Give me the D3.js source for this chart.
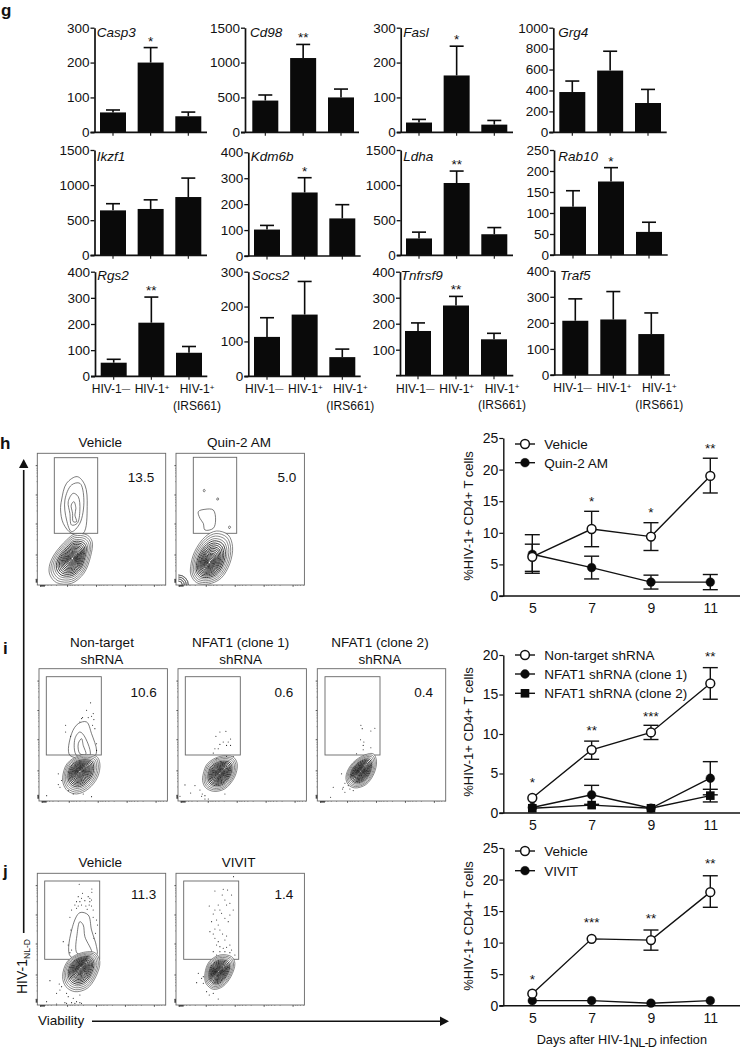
<!DOCTYPE html>
<html><head><meta charset="utf-8">
<script src="https://cdn.jsdelivr.net/npm/d3@7"></script>
<style>
html,body{margin:0;padding:0;background:#fff}
svg{display:block}
text{font-family:"Liberation Sans",Arial,sans-serif;fill:#111}
</style></head><body><svg id="c" width="740" height="1050"></svg>
<script>
// ---------- bar panel data ----------
const barCategories = ["HIV-1−","HIV-1+","HIV-1+ (IRS661)"];
const geneNames = ["Casp3","Cd98","Fasl","Grg4","Ikzf1","Kdm6b","Ldha","Rab10","Rgs2","Socs2","Tnfrsf9","Traf5"];
const geneMeans = [[57,200,46],[455,1065,500],[28,163,22],[385,590,280],[640,660,830],[102,245,145],[240,1030,300],[115,175,55],[52,205,90],[113,177,55],[172,270,140],[208,213,157]];
const geneErrTops = [[64,243,58],[535,1260,620],[37,247,34],[490,775,410],[735,790,1100],[118,302,198],[330,1200,395],[153,208,78],[65,303,114],[168,272,78],[203,305,163],[292,320,238]];
const geneStars = [["","*",""],["","**",""],["","*",""],["","",""],["","",""],["","*",""],["","**",""],["","*",""],["","**",""],["","",""],["","**",""],["","",""]];
const geneTicks = [[0,100,200,300],[0,500,1000,1500],[0,100,200,300],[0,200,400,600,800,1000],[0,500,1000,1500],[0,100,200,300,400],[0,500,1000,1500],[0,50,100,150,200,250],[0,100,200,300,400],[0,100,200,300],[100,200,300,400],[0,100,200,300,400]];
const geneDomainMax = [300,1500,300,1000,1500,400,1500,250,400,300,400,400];

// ---------- line panel data ----------
const days = [5,7,9,11];
const hVehicle = [6.2,10.6,9.4,19.0];
const hVehicleLo = [3.9,7.8,7.2,16.3];
const hVehicleHi = [8.2,13.4,11.6,21.8];
const hQuin = [6.6,4.5,2.2,2.2];
const hQuinLo = [3.6,2.7,1.1,1.0];
const hQuinHi = [9.7,6.3,3.3,3.4];
const hStars = ["","*","*","**"];
const hTicks = [0,5,10,15,20,25];

const iNonTarget = [1.9,8.0,10.2,16.4];
const iNonTargetLo = [1.9,6.8,9.3,14.4];
const iNonTargetHi = [1.9,9.1,11.1,18.4];
const iClone1 = [0.7,2.3,0.6,4.4];
const iClone1Lo = [0.7,1.1,0.6,2.3];
const iClone1Hi = [0.7,3.5,0.6,6.5];
const iClone2 = [0.6,1.0,0.6,2.2];
const iClone2Lo = [0.6,1.0,0.6,1.4];
const iClone2Hi = [0.6,1.0,0.6,3.0];
const iStars = ["*","**","***","**"];
const iTicks = [0,5,10,15,20];

const jVehicle = [1.9,10.6,10.4,18.0];
const jVehicleLo = [1.9,10.6,8.8,15.6];
const jVehicleHi = [1.9,10.6,12.0,20.6];
const jVivit = [0.8,0.8,0.4,0.8];
const jStars = ["*","***","**","**"];
const jTicks = [0,5,10,15,20,25];

// ---------- flow plot shapes in a 386 x 395 plot unit space ----------
const h1Blob = [[36,340],[50,305],[88,260],[113,242],[150,245],[165,265],[160,310],[140,360],[103,390],[58,388],[38,365]];
const h1Center = [106,315];
const h1Upper = [
 [[73,140],[88,90],[120,70],[143,95],[150,160],[138,240],[103,240],[78,210],[70,170]],
 [[83,140],[103,95],[128,90],[140,140],[128,210],[103,235],[88,200]],
 [[93,145],[108,120],[123,130],[128,170],[120,210],[103,215],[98,180]],
 [[102,155],[110,145],[116,165],[113,185],[118,205],[108,205],[106,180]]];
const h2Blob = [[44,340],[56,295],[88,250],[122,233],[157,245],[170,280],[162,330],[135,375],[97,392],[62,388],[45,365]];
const h2Center = [100,328];
const h2Upper = [
 [[67,175],[87,168],[112,170],[119,200],[112,225],[87,230],[82,210],[72,195]],
 [[82,110],[85,108],[88,112],[84,116]],[[123,135],[127,134],[128,139],[123,140]],[[158,220],[162,218],[164,223],[160,226]]];
const i1Blob = [[71,324],[84,284],[123,259],[173,262],[183,284],[176,324],[148,359],[113,374],[85,364],[73,344]];
const i1Center = [123,306];
const i1Upper = [
 [[93,259],[98,194],[118,164],[143,159],[158,194],[173,244],[168,259]],
 [[113,259],[108,209],[123,189],[138,204],[153,259]],
 [[123,254],[118,224],[128,209],[133,229],[141,256]]];
const i1Dots = [[155,102],[143,124],[163,134],[158,142],[148,146],[128,149],[131,146],[165,152],[80,169],[123,159],[161,169],[168,179],[95,202],[80,189],[173,224],[173,244],[58,314],[63,354],[88,364],[158,382],[23,379],[68,334],[58,346],[103,374],[133,374]];
const i2Blob = [[76,314],[88,284],[126,262],[166,264],[178,284],[170,324],[140,359],[106,366],[82,354],[74,334]];
const i2Center = [126,312];
const i2Dots = [[126,189],[144,187],[114,202],[158,210],[136,219],[151,219],[126,226],[146,229],[158,229],[111,239],[121,239],[106,252],[166,262],[21,347],[38,371],[51,349],[66,362],[73,374],[71,381],[81,389],[91,389],[81,379],[6,381],[116,269],[146,262],[141,374]];
const i3Blob = [[86,324],[100,289],[133,262],[168,254],[178,276],[170,314],[146,346],[113,356],[93,346]];
const i3Center = [130,306];
const i3Dots = [[131,169],[135,179],[173,178],[161,186],[130,212],[140,219],[138,229],[138,242],[161,236],[73,314],[83,342],[93,349],[78,354],[83,369],[48,354],[40,384],[98,359],[108,364],[76,359],[118,254]];
const j1Blob = [[76,310],[90,265],[128,240],[173,238],[188,265],[176,310],[150,345],[113,355],[86,340]];
const j1Center = [131,282];
const j1Upper = [
 [[100,250],[106,160],[128,118],[153,125],[163,170],[178,220],[178,245]],
 [[120,240],[120,180],[128,145],[138,155],[143,190],[163,240]]];
const j1Dots = [[126,33],[164,47],[164,57],[136,60],[123,70],[133,75],[153,70],[158,75],[118,85],[128,85],[143,82],[158,85],[163,80],[113,95],[123,98],[133,95],[146,98],[156,95],[163,98],[103,110],[118,105],[150,108],[168,110],[98,132],[168,132],[178,140],[181,155],[101,170],[175,180],[78,205],[93,215],[170,195],[103,230],[98,238],[38,322],[66,332],[58,360],[73,340],[68,350],[88,360],[93,370],[108,375],[128,365],[83,388],[103,388],[118,385],[128,388],[113,390],[133,390],[28,385],[58,392],[88,390]];
const j2Blob = [[87,300],[100,265],[132,245],[167,250],[177,270],[165,310],[140,340],[112,348],[90,330]];
const j2Center = [127,295];
const j2Dots = [[173,10],[117,53],[142,48],[155,50],[139,65],[167,65],[147,80],[162,90],[127,95],[100,98],[152,95],[117,110],[132,110],[172,110],[112,122],[137,120],[162,125],[147,135],[107,145],[122,140],[157,145],[127,155],[117,167],[102,175],[132,170],[112,182],[140,182],[152,188],[117,195],[127,205],[147,200],[162,215],[122,215],[132,220],[142,225],[152,222],[167,230],[112,235],[132,235],[147,235],[162,238],[177,245],[122,245],[67,300],[77,315],[62,328],[82,330],[92,355],[100,365],[127,377],[112,360],[82,310]];
const contourScales = [1,.92,.84,.76,.69,.62,.56,.5,.45,.4,.35,.3,.26,.22,.18,.14,.1,.06];
const flowMajor = [37,125,212,305,378];
const flowMinorOffsets = [8,14,22,32,48];

const svg = d3.select("#c");

// ---------- bar panels ----------
const barLayout = [
 {x:94.5,r:207,c1:113,c3:188.3,y0:132.3,yt:27.7},{x:245,r:359,c1:265.3,c3:341,y0:132.3,yt:27.7},{x:400.7,r:513,c1:419,c3:494.3,y0:132.3,yt:27.7},{x:553.3,r:666.7,c1:572.3,c3:648,y0:132.3,yt:27.7},
 {x:94.5,r:207,c1:113,c3:188.3,y0:255.3,yt:150},{x:248.3,r:360.7,c1:267,c3:342.3,y0:256,yt:152.3},{x:400.7,r:513,c1:419,c3:494.3,y0:255.3,yt:150},{x:554,r:667.7,c1:573,c3:649,y0:255,yt:150},
 {x:95,r:207.3,c1:113.7,c3:189,y0:376.3,yt:271.7},{x:248.3,r:360.7,c1:267,c3:342.3,y0:376.3,yt:271.7},{x:400,r:513.3,c1:418,c3:494,y0:375.7,yt:271.7},{x:554.3,r:670,c1:575.3,c3:651.3,y0:375,yt:270.7}];
const labelPos = [[96.7,37],[250,37],[403.3,37],[558.3,37],[96.7,161],[250.7,161],[403.3,161],[558.3,161],[97.3,280],[251.7,280],[400.7,280],[560,280]];
const xLabelShift = [-2.7,0.7,8];

geneNames.forEach((g,i)=>{
  const L = barLayout[i];
  const x = d3.scalePoint().domain(barCategories).range([L.c1,L.c3]);
  const y = d3.scaleLinear().domain([0,geneDomainMax[i]]).range([L.y0,L.yt]);
  const G = svg.append("g");
  G.selectAll("rect").data(geneMeans[i]).join("rect")
    .attr("x",(d,k)=>x(barCategories[k])-13).attr("width",26)
    .attr("y",d=>y(d)).attr("height",d=>L.y0-y(d)).attr("fill","#0a0a0a");
  geneErrTops[i].forEach((t,k)=>{
    const cx = x(barCategories[k]);
    G.append("line").attr("x1",cx).attr("x2",cx).attr("y1",y(geneMeans[i][k])).attr("y2",y(t)).attr("stroke","#0a0a0a").attr("stroke-width",1.6);
    G.append("line").attr("x1",cx-7).attr("x2",cx+7).attr("y1",y(t)).attr("y2",y(t)).attr("stroke","#0a0a0a").attr("stroke-width",1.6);
    if(geneStars[i][k]) G.append("text").attr("x",cx).attr("y",y(t)-2).attr("text-anchor","middle").attr("font-size",13.5).text(geneStars[i][k]);
    G.append("line").attr("x1",cx).attr("x2",cx).attr("y1",L.y0).attr("y2",L.y0+3.5).attr("stroke","#111").attr("stroke-width",1.1);
  });
  const ax = d3.axisLeft(y).tickValues(geneTicks[i]).tickFormat(d3.format("d")).tickSize(4).tickSizeOuter(0).tickPadding(1);
  const A = G.append("g").attr("transform",`translate(${L.x},0)`).call(ax);
  A.selectAll("path").attr("stroke","#111").attr("stroke-width",1.7);
  A.selectAll("line").attr("stroke","#111").attr("stroke-width",1.3);
  A.selectAll("text").attr("font-size",13.5).attr("font-family",'"Liberation Sans",Arial,sans-serif').attr("fill","#111");
  G.append("line").attr("x1",L.x-4).attr("x2",L.r).attr("y1",L.y0).attr("y2",L.y0).attr("stroke","#111").attr("stroke-width",1.7);
  G.append("text").attr("x",labelPos[i][0]).attr("y",labelPos[i][1]).attr("font-style","italic").attr("font-size",13.5).text(g);
  if(i>=8){
    const yb = L.y0+17;
    [0,1,2].forEach(k=>{
      const px = x(barCategories[k])+xLabelShift[k];
      const t = G.append("text").attr("x",px).attr("y",yb).attr("text-anchor","middle").attr("font-size",12);
      t.append("tspan").text("HIV-1");
      if(k===0) t.append("tspan").attr("font-size",8.5).attr("dy",-1).text("—");
      else t.append("tspan").attr("font-size",8).attr("dy",-3.5).text("+");
      if(k===2) G.append("text").attr("x",px).attr("y",yb+16.5).attr("text-anchor","middle").attr("font-size",12).text("(IRS661)");
    });
  }
});

// ---------- line panels ----------
function linePanel(cfg){
  const x = d3.scaleLinear().domain([5,11]).range([532.3,710.3]);
  const y = d3.scaleLinear().domain([0,cfg.max]).range([cfg.y0,cfg.yt]);
  const G = svg.append("g");
  const ax = d3.axisLeft(y).tickValues(cfg.ticks).tickSize(4).tickSizeOuter(0).tickPadding(1);
  const A = G.append("g").attr("transform","translate(503.3,0)").call(ax);
  A.selectAll("path").attr("stroke","#111").attr("stroke-width",1.4);
  A.selectAll("line").attr("stroke","#111").attr("stroke-width",1.2);
  A.selectAll("text").attr("font-size",14).attr("font-family",'"Liberation Sans",Arial,sans-serif').attr("fill","#111");
  const bx = d3.axisBottom(x).tickValues(days).tickSize(0).tickPadding(7).tickFormat(d3.format("d"));
  const B = G.append("g").attr("transform",`translate(0,${cfg.y0})`).call(bx);
  B.select("path").remove();
  B.selectAll("text").attr("font-size",14).attr("font-family",'"Liberation Sans",Arial,sans-serif').attr("fill","#111");
  G.append("line").attr("x1",499.3).attr("x2",740).attr("y1",cfg.y0).attr("y2",cfg.y0).attr("stroke","#111").attr("stroke-width",1.4);
  const line = d3.line().x((d,k)=>x(days[k])).y(d=>y(d));
  cfg.series.slice().reverse().forEach(s=>{
    s.hi && days.forEach((d,k)=>{
      if(s.hi[k]===s.v[k] && s.lo[k]===s.v[k]) return;
      const cx=x(d);
      G.append("line").attr("x1",cx).attr("x2",cx).attr("y1",y(s.lo[k])).attr("y2",y(s.hi[k])).attr("stroke","#111").attr("stroke-width",1.4);
      [s.lo[k],s.hi[k]].forEach(e=>{
        if(e===s.v[k]) return;
        G.append("line").attr("x1",cx-7.5).attr("x2",cx+7.5).attr("y1",y(e)).attr("y2",y(e)).attr("stroke","#111").attr("stroke-width",1.4);
      });
    });
    G.append("path").attr("d",line(s.v)).attr("fill","none").attr("stroke","#111").attr("stroke-width",1.4);
  });
  const mark=(g,kind,cx,cy)=>{
    if(kind==="square") g.append("rect").attr("x",cx-4.3).attr("y",cy-4.3).attr("width",8.6).attr("height",8.6).attr("fill","#0a0a0a");
    else g.append("circle").attr("cx",cx).attr("cy",cy).attr("r",4.4).attr("fill",kind==="open"?"#fff":"#0a0a0a").attr("stroke","#111").attr("stroke-width",kind==="open"?1.5:.4);
  };
  cfg.series.slice().reverse().forEach(s=>s.v.forEach((d,k)=>mark(G,s.kind,x(days[k]),y(d))));
  cfg.stars.forEach((s,k)=>{ if(s) G.append("text").attr("x",x(days[k])).attr("y",cfg.starY[k]+6.5).attr("text-anchor","middle").attr("font-size",13.5).text(s); });
  cfg.series.forEach((s,k)=>{
    const ly = cfg.legY[k];
    G.append("line").attr("x1",515).attr("x2",535).attr("y1",ly).attr("y2",ly).attr("stroke","#111").attr("stroke-width",1.4);
    mark(G,s.kind,525,ly);
    G.append("text").attr("x",544.3).attr("y",ly+5).attr("font-size",13.5).text(s.name);
  });
  G.append("text").attr("transform",`translate(473,${cfg.ty}) rotate(-90)`).attr("text-anchor","middle").attr("font-size",13).text("%HIV-1+ CD4+ T cells");
}
linePanel({max:25,y0:596,yt:438,ticks:hTicks,stars:hStars,starY:[0,499,510.7,446.7],legY:[444,462.7],ty:516,series:[
  {name:"Vehicle",kind:"open",v:hVehicle,lo:hVehicleLo,hi:hVehicleHi},
  {name:"Quin-2 AM",kind:"filled",v:hQuin,lo:hQuinLo,hi:hQuinHi}]});
linePanel({max:20,y0:813,yt:655,ticks:iTicks,stars:iStars,starY:[780,728,714,654.3],legY:[655,674,693.3],ty:732,series:[
  {name:"Non-target shRNA",kind:"open",v:iNonTarget,lo:iNonTargetLo,hi:iNonTargetHi},
  {name:"NFAT1 shRNA (clone 1)",kind:"filled",v:iClone1,lo:iClone1Lo,hi:iClone1Hi},
  {name:"NFAT1 shRNA (clone 2)",kind:"square",v:iClone2,lo:iClone2Lo,hi:iClone2Hi}]});
linePanel({max:25,y0:1005.7,yt:848,ticks:jTicks,stars:jStars,starY:[977,920,916.7,861],legY:[851,870.7],ty:926,series:[
  {name:"Vehicle",kind:"open",v:jVehicle,lo:jVehicleLo,hi:jVehicleHi},
  {name:"VIVIT",kind:"filled",v:jVivit,lo:jVivit,hi:jVivit}]});
const xt = svg.append("text").attr("x",536.7).attr("y",1044).attr("font-size",12.7);
xt.append("tspan").text("Days after HIV-1");
xt.append("tspan").attr("dy",3).attr("letter-spacing",-0.8).text("NL-D");
xt.append("tspan").attr("dy",-3).text(" infection");

// ---------- flow plots ----------
function flowPlot(o){
  const W=128.4,H=o.h;
  const sx=d3.scaleLinear().domain([0,386]).range([o.x,o.x+W]);
  const sy=d3.scaleLinear().domain([0,395]).range([o.y,o.y+H]);
  const G=svg.append("g");
  G.append("rect").attr("x",o.x).attr("y",o.y).attr("width",W).attr("height",H).attr("fill","#fff").attr("stroke","#666").attr("stroke-width",.9);
  const tick=(x1,y1,x2,y2,w)=>G.append("line").attr("x1",x1).attr("y1",y1).attr("x2",x2).attr("y2",y2).attr("stroke","#444").attr("stroke-width",w||.7);
  flowMajor.forEach((m,i)=>{
    tick(o.x-1.6,sy(m),o.x,sy(m),.9);
    if(i<4) flowMinorOffsets.forEach(d=>tick(o.x-.8,sy(m+d),o.x,sy(m+d),.5));
    const bx=[10,91,178,265,352][i];
    tick(sx(bx),o.y+H,sx(bx),o.y+H+1.8,.9);
    flowMinorOffsets.forEach(d=>{ if(bx+d<386) tick(sx(bx+d),o.y+H,sx(bx+d),o.y+H+.9,.5); });
  });
  tick(sx(8),o.y+H+.8,sx(23),o.y+H+.8,1.6);
  tick(o.x-.8,sy(378),o.x-.8,sy(388),1.6);
  G.append("rect").attr("x",o.gx).attr("y",o.gy).attr("width",o.gw).attr("height",o.gh).attr("fill","none").attr("stroke","#666").attr("stroke-width",.9);
  const lineC=d3.line().x(d=>sx(d[0])).y(d=>sy(d[1])).curve(d3.curveCatmullRomClosed.alpha(.5));
  (o.upper||[]).forEach(u=>G.append("path").attr("d",lineC(u)).attr("fill","none").attr("stroke","#444").attr("stroke-width",.7));
  contourScales.forEach(s=>{
    const pts=o.blob.map(p=>[o.center[0]+(p[0]-o.center[0])*s,o.center[1]+(p[1]-o.center[1])*s]);
    G.append("path").attr("d",lineC(pts)).attr("fill",s===1?"#fff":"none").attr("stroke",s>.7?"#555":"#1a1a1a").attr("stroke-width",s>.7?.7:.85);
  });
  G.selectAll("circle").data(o.dots||[]).join("circle").attr("cx",d=>sx(d[0])).attr("cy",d=>sy(d[1])).attr("r",.55).attr("fill","#222");
  if(o.corner){
    const arc=d3.arc();
    [4,6,8,10].forEach(r=>G.append("path").attr("transform",`translate(${sx(7)},${sy(395)})`).attr("d",arc({innerRadius:r,outerRadius:r,startAngle:0,endAngle:Math.PI/2})).attr("fill","none").attr("stroke","#555").attr("stroke-width",.7));
  }
  G.append("text").attr("x",o.lx).attr("y",o.ly).attr("text-anchor","middle").attr("font-size",13.5).text(o.label);
  o.title.forEach((t,i)=>G.append("text").attr("x",o.tx).attr("y",o.ty+i*17.3).attr("text-anchor","middle").attr("font-size",13.5).text(t));
}
flowPlot({x:37.3,y:453.3,h:131.7,gx:54.3,gy:457.7,gw:43.4,gh:75.6,blob:h1Blob,center:h1Center,upper:h1Upper,label:"13.5",lx:141,ly:481.5,tx:100.3,ty:447,title:["Vehicle"]});
flowPlot({x:176,y:453.3,h:131.7,gx:193.3,gy:457.3,gw:43.4,gh:76,blob:h2Blob,center:h2Center,upper:h2Upper,corner:true,label:"5.0",lx:287,ly:481.5,tx:239,ty:447,title:["Quin-2 AM"]});
flowPlot({x:39,y:668.7,h:132.3,gx:46.3,gy:676.7,gw:55,gh:78.3,blob:i1Blob,center:i1Center,upper:i1Upper,dots:i1Dots,label:"10.6",lx:143.7,ly:696.5,tx:102,ty:646.5,title:["Non-target","shRNA"]});
flowPlot({x:178,y:668.7,h:132.3,gx:185.3,gy:676.7,gw:55,gh:78.3,blob:i2Blob,center:i2Center,dots:i2Dots,label:"0.6",lx:284,ly:696.5,tx:240.7,ty:646.5,title:["NFAT1 (clone 1)","shRNA"]});
flowPlot({x:317.3,y:668.7,h:132.3,gx:325,gy:676.7,gw:55,gh:78.3,blob:i3Blob,center:i3Center,dots:i3Dots,label:"0.4",lx:423.7,ly:696.5,tx:380,ty:646.5,title:["NFAT1 (clone 2)","shRNA"]});
flowPlot({x:37.3,y:873.3,h:131.7,gx:44.7,gy:881,gw:55,gh:78.3,blob:j1Blob,center:j1Center,upper:j1Upper,dots:j1Dots,label:"11.3",lx:143.7,ly:899,tx:100.3,ty:867,title:["Vehicle"]});
flowPlot({x:176,y:873.3,h:131.7,gx:183.7,gy:881,gw:55,gh:78.3,blob:j2Blob,center:j2Center,dots:j2Dots,label:"1.4",lx:284,ly:899,tx:238.7,ty:867,title:["VIVIT"]});

// ---------- arrows and captions ----------
svg.append("line").attr("x1",23.7).attr("x2",23.7).attr("y1",933).attr("y2",470).attr("stroke","#111").attr("stroke-width",1.6);
svg.append("path").attr("d",d3.line()([[23.7,459],[19,468],[28.4,468]])+"Z").attr("fill","#111");
svg.append("line").attr("x1",92).attr("x2",440).attr("y1",1021.3).attr("y2",1021.3).attr("stroke","#111").attr("stroke-width",1.6);
svg.append("path").attr("d",d3.line()([[449,1021.3],[440,1016.6],[440,1026]])+"Z").attr("fill","#111");
svg.append("text").attr("x",38).attr("y",1025).attr("font-size",13.5).text("Viability");
const yl = svg.append("text").attr("transform","translate(27,994) rotate(-90)").attr("font-size",14);
yl.append("tspan").text("HIV-1");
yl.append("tspan").attr("dy",3).attr("font-size",8.5).text("NL-D");

[["g",1,15.5],["h",0,449],["i",3,654],["j",3,877]].forEach(p=>
  svg.append("text").attr("x",p[1]).attr("y",p[2]).attr("font-weight","bold").attr("font-size",17).attr("fill","#000").text(p[0]));
</script></body></html>
